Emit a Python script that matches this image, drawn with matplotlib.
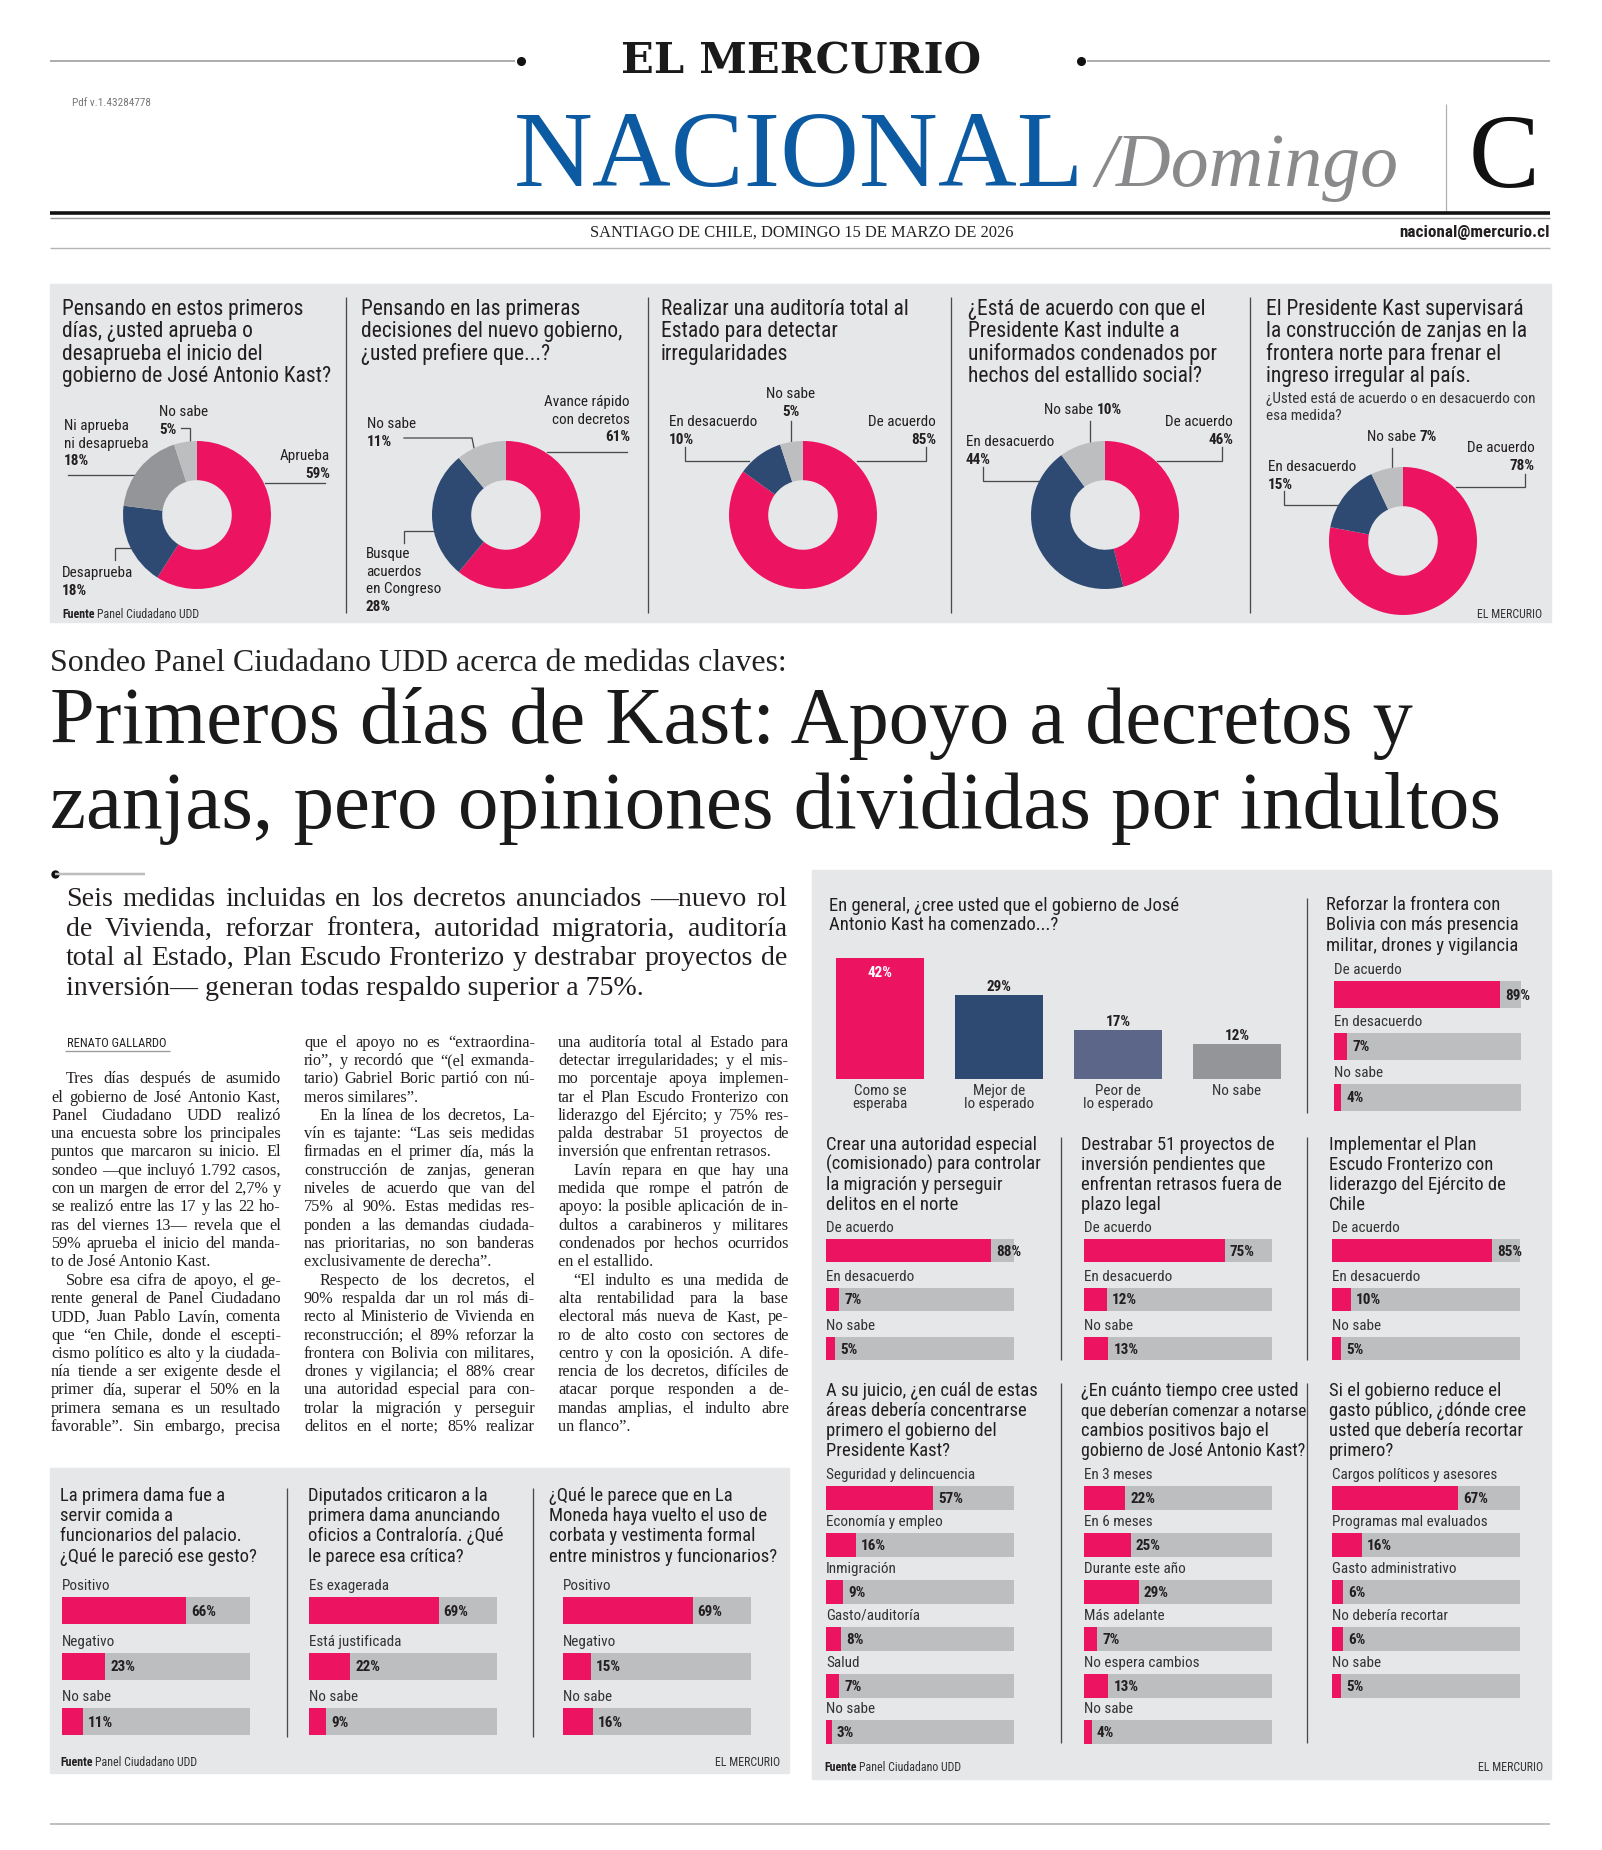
import matplotlib
matplotlib.use('Agg')
import matplotlib.pyplot as plt
from matplotlib import font_manager
from matplotlib.font_manager import FontProperties
from matplotlib.patches import Rectangle

W, H = 1602, 1850
PT = 0.72  # points per pixel at dpi 100

PINK = '#ec1461'
NAVY = '#2f4a72'
SLATE = '#5b6689'
GRAY = '#939598'
LIGHT = '#bcbec0'
PANEL = '#e6e7e8'
INK = '#231f20'
LEAD = '#4a4a4a'
BLUE = '#0b5aa2'

installed = {f.name for f in font_manager.fontManager.ttflist}
def pick(*names):
    for n in names:
        if n in installed:
            return n
    return 'DejaVu Sans'

COND = pick('Roboto Condensed', 'Liberation Sans Narrow', 'DejaVu Sans Condensed', 'Roboto')
SERIF = pick('Liberation Serif', 'DejaVu Serif')
SLAB = pick('DejaVu Serif')

# ---- data: top row of donuts
q1_labels = ['Aprueba', 'Desaprueba', 'Ni aprueba\nni desaprueba', 'No sabe']
q1_values = [59, 18, 18, 5]
q2_labels = ['Avance rápido\ncon decretos', 'Busque\nacuerdos\nen Congreso', 'No sabe']
q2_values = [61, 28, 11]
q3_labels = ['De acuerdo', 'En desacuerdo', 'No sabe']
q3_values = [85, 10, 5]
q4_labels = ['De acuerdo', 'En desacuerdo', 'No sabe']
q4_values = [46, 44, 10]
q5_labels = ['De acuerdo', 'En desacuerdo', 'No sabe']
q5_values = [78, 15, 7]

# ---- data: right panel
start_labels = ['Como se\nesperaba', 'Mejor de\nlo esperado', 'Peor de\nlo esperado', 'No sabe']
start_values = [42, 29, 17, 12]
agree_labels = ['De acuerdo', 'En desacuerdo', 'No sabe']
bolivia_values = [89, 7, 4]
authority_values = [88, 7, 5]
projects_values = [75, 12, 13]
shield_values = [85, 10, 5]
area_labels = ['Seguridad y delincuencia', 'Economía y empleo', 'Inmigración',
               'Gasto/auditoría', 'Salud', 'No sabe']
area_values = [57, 16, 9, 8, 7, 3]
time_labels = ['En 3 meses', 'En 6 meses', 'Durante este año', 'Más adelante',
               'No espera cambios', 'No sabe']
time_values = [22, 25, 29, 7, 13, 4]
cut_labels = ['Cargos políticos y asesores', 'Programas mal evaluados',
              'Gasto administrativo', 'No debería recortar', 'No sabe']
cut_values = [67, 16, 6, 6, 5]

# ---- data: bottom left panel
lady_labels = ['Positivo', 'Negativo', 'No sabe']
lady_values = [66, 23, 11]
critic_labels = ['Es exagerada', 'Está justificada', 'No sabe']
critic_values = [69, 22, 9]
tie_labels = ['Positivo', 'Negativo', 'No sabe']
tie_values = [69, 15, 16]

# ---- article text
lede = ['Seis medidas incluidas en los decretos anunciados —nuevo rol',
        'de Vivienda, reforzar frontera, autoridad migratoria, auditoría',
        'total al Estado, Plan Escudo Fronterizo y destrabar proyectos de',
        'inversión— generan todas respaldo superior a 75%.']
col1 = [['Tres días después de asumido', 'el gobierno de José Antonio Kast,',
         'Panel Ciudadano UDD realizó', 'una encuesta sobre los principales',
         'puntos que marcaron su inicio. El', 'sondeo —que incluyó 1.792 casos,',
         'con un margen de error del 2,7% y', 'se realizó entre las 17 y las 22 ho-',
         'ras del viernes 13— revela que el', '59% aprueba el inicio del manda-',
         'to de José Antonio Kast.'],
        ['Sobre esa cifra de apoyo, el ge-', 'rente general de Panel Ciudadano',
         'UDD, Juan Pablo Lavín, comenta', 'que “en Chile, donde el escepti-',
         'cismo político es alto y la ciudada-', 'nía tiende a ser exigente desde el',
         'primer día, superar el 50% en la', 'primera semana es un resultado',
         'favorable”. Sin embargo, precisa']]
col2 = [['que el apoyo no es “extraordina-', 'rio”, y recordó que “(el exmanda-',
         'tario) Gabriel Boric partió con nú-', 'meros similares”.'],
        ['En la línea de los decretos, La-', 'vín es tajante: “Las seis medidas',
         'firmadas en el primer día, más la', 'construcción de zanjas, generan',
         'niveles de acuerdo que van del', '75% al 90%. Estas medidas res-',
         'ponden a las demandas ciudada-', 'nas prioritarias, no son banderas',
         'exclusivamente de derecha”.'],
        ['Respecto de los decretos, el', '90% respalda dar un rol más di-',
         'recto al Ministerio de Vivienda en', 'reconstrucción; el 89% reforzar la',
         'frontera con Bolivia con militares,', 'drones y vigilancia; el 88% crear',
         'una autoridad especial para con-', 'trolar la migración y perseguir',
         'delitos en el norte; 85% realizar']]
col3 = [['una auditoría total al Estado para', 'detectar irregularidades; y el mis-',
         'mo porcentaje apoya implemen-', 'tar el Plan Escudo Fronterizo con',
         'liderazgo del Ejército; y 75% res-', 'palda destrabar 51 proyectos de',
         'inversión que enfrentan retrasos.'],
        ['Lavín repara en que hay una', 'medida que rompe el patrón de',
         'apoyo: la posible aplicación de in-', 'dultos a carabineros y militares',
         'condenados por hechos ocurridos', 'en el estallido.'],
        ['“El indulto es una medida de', 'alta rentabilidad para la base',
         'electoral más nueva de Kast, pe-', 'ro de alto costo con sectores de',
         'centro y con la oposición. A dife-', 'rencia de los decretos, difíciles de',
         'atacar porque responden a de-', 'mandas amplias, el indulto abre',
         'un flanco”.']]

fig = plt.figure(figsize=(W / 100, H / 100), dpi=100)
ax = fig.add_axes([0, 0, 1, 1])
ax.set_xlim(0, W)
ax.set_ylim(H, 0)
ax.axis('off')
R = fig.canvas.get_renderer()


def fprop(px, fam, weight='normal', style='normal'):
    return FontProperties(family=fam, size=px * PT, weight=weight, style=style)


def wid(s, fp):
    return R.get_text_width_height_descent(s, fp, False)[0]


def fitpx(s, target, fam, weight='normal', style='normal'):
    return 20 * target / wid(s, fprop(20, fam, weight, style))


def txt(x, y, s, px, fam=None, weight='normal', color=INK, ha='left',
        style='normal', maxw=None, base=False):
    fp = fprop(px, fam or COND, weight, style)
    if maxw:
        w = wid(s, fp)
        if w > maxw:
            fp.set_size(px * PT * maxw / w)
    yb = y if base else y + 0.36 * px
    return ax.text(x, yb, s, fontproperties=fp, color=color, ha=ha, va='baseline')


def hline(x0, x1, y, color, lw):
    ax.plot([x0, x1], [y, y], color=color, lw=lw * PT, solid_capstyle='butt')


def vline(x, y0, y1, color=LEAD, lw=1.3):
    ax.plot([x, x], [y0, y1], color=color, lw=lw * PT, solid_capstyle='butt')


def leader(path):
    xs, ys = zip(*path)
    ax.plot(xs, ys, color=LEAD, lw=1.3 * PT, solid_joinstyle='miter')


# ---- calibrated type sizes (from widths)
TOP_T = fitpx('gobierno de José Antonio Kast?', 269, COND)
BAR_T = fitpx('(comisionado) para controlar', 214, COND)
LAB = fitpx('En desacuerdo', 88, COND)
SUB = fitpx('¿Usted está de acuerdo o en desacuerdo con', 269, COND)
SRC = fitpx('Fuente Panel Ciudadano UDD', 136, COND)
BODY = fitpx('una encuesta sobre los principales', 222, SERIF)
LEDE = fitpx(lede[0], 700, SERIF)

# ================= masthead
hline(50, 515, 61, '#9a9a9a', 1.6)
hline(1087, 1550, 61, '#9a9a9a', 1.6)
ax.plot([521, 1081], [61, 61], 'o', color='#111', ms=5.5, ls='none')
txt(801, 74, 'EL MERCURIO', fitpx('EL MERCURIO', 360, SLAB, 'bold'), SLAB, 'bold',
    '#1a1a1a', 'center', base=True)
txt(72, 106, 'Pdf v.1.43284778', fitpx('Pdf v.1.43284778', 79, COND), color='#777', base=True)
txt(514, 186, 'NACIONAL', fitpx('NACIONAL', 571, SERIF), SERIF, color=BLUE, base=True)
txt(1095, 186, '/Domingo', fitpx('/Domingo', 303, SERIF, style='italic'), SERIF,
    color='#8a8a8c', style='italic', base=True)
vline(1446, 104, 211, '#b0b0b0', 1.2)
txt(1469, 187, 'C', fitpx('C', 71, SERIF), SERIF, color='#111', base=True)
hline(50, 1550, 212.5, '#111', 3.6)
hline(50, 1550, 217.5, '#9a9a9a', 1.4)
date = 'SANTIAGO DE CHILE, DOMINGO 15 DE MARZO DE 2026'
txt(802, 237, date, fitpx(date, 426, SERIF), SERIF, color='#222', ha='center', base=True)
txt(1550, 237, 'nacional@mercurio.cl', fitpx('nacional@mercurio.cl', 150, COND, 'bold'),
    weight='bold', ha='right', base=True)
hline(50, 1550, 248, '#b5b5b5', 1.4)

# ================= top donut panel
ax.add_patch(Rectangle((50, 284), 1501, 338, color=PANEL, zorder=0))
for x in [346, 648, 951, 1250]:
    vline(x, 297, 613)

top_titles = [
    (62, ['Pensando en estos primeros', 'días, ¿usted aprueba o',
          'desaprueba el inicio del', 'gobierno de José Antonio Kast?']),
    (361, ['Pensando en las primeras', 'decisiones del nuevo gobierno,',
           '¿usted prefiere que...?']),
    (661, ['Realizar una auditoría total al', 'Estado para detectar', 'irregularidades']),
    (968, ['¿Está de acuerdo con que el', 'Presidente Kast indulte a',
           'uniformados condenados por', 'hechos del estallido social?']),
    (1266, ['El Presidente Kast supervisará', 'la construcción de zanjas en la',
            'frontera norte para frenar el', 'ingreso irregular al país.']),
]
for x, tl in top_titles:
    for i, ln in enumerate(tl):
        txt(x, 307 + i * 22.5, ln, TOP_T, maxw=280)
txt(1266, 398, '¿Usted está de acuerdo o en desacuerdo con', SUB, color='#333')
txt(1266, 415, 'esa medida?', SUB, color='#333')


def donut(cx, cy, vals, colors, r=74):
    a = fig.add_axes([(cx - r) / W, 1 - (cy + r) / H, 2 * r / W, 2 * r / H])
    a.pie(vals, colors=colors, startangle=90, counterclock=False, radius=1,
          wedgeprops=dict(width=0.53, linewidth=0))
    a.set_xlim(-1, 1)
    a.set_ylim(-1, 1)
    a.axis('off')


def dlabel(x, y, name, val, ha='left', path=None):
    lines = name.split('\n')
    for i, ln in enumerate(lines):
        txt(x, y + i * 17.5, ln, LAB, ha=ha)
    txt(x, y + len(lines) * 17.5, f'{val}%', LAB, weight='bold', ha=ha)
    if path:
        leader(path)


def ilabel(x, y, name, val, path=None):
    t = txt(x, y, name, LAB)
    w = wid(name + ' ', t.get_fontproperties())
    txt(x + w, y, f'{val}%', LAB, weight='bold')
    if path:
        leader(path)


C4 = [PINK, NAVY, GRAY, LIGHT]
C3 = [PINK, NAVY, LIGHT]

donut(197, 515, q1_values, C4)
dlabel(330, 455, q1_labels[0], q1_values[0], 'right', [(265, 483), (325, 483)])
dlabel(62, 572, q1_labels[1], q1_values[1], 'left', [(115, 560), (115, 548), (131, 548)])
dlabel(64, 425, q1_labels[2], q1_values[2], 'left', [(68, 475), (136, 475)])
dlabel(159, 411, q1_labels[3], q1_values[3], 'left', [(181, 428), (190, 428), (190, 442)])

donut(506, 515, q2_values, C3)
dlabel(630, 401, q2_labels[0], q2_values[0], 'right', [(547, 452), (627, 452)])
dlabel(366, 553, q2_labels[1], q2_values[1], 'left', [(404, 543), (404, 531), (434, 531)])
dlabel(367, 423, q2_labels[2], q2_values[2], 'left', [(404, 438), (472, 438), (474, 448)])

donut(803, 515, q3_values, C3)
dlabel(936, 421, q3_labels[0], q3_values[0], 'right', [(926, 447), (926, 461), (857, 461)])
dlabel(669, 421, q3_labels[1], q3_values[1], 'left', [(685, 447), (685, 461), (749, 461)])
dlabel(791, 393, q3_labels[2], q3_values[2], 'center', [(791, 421), (791, 442)])

donut(1105, 515, q4_values, C3)
dlabel(1233, 421, q4_labels[0], q4_values[0], 'right', [(1222, 447), (1222, 461), (1157, 461)])
dlabel(966, 441, q4_labels[1], q4_values[1], 'left', [(983, 467), (983, 481), (1041, 481)])
ilabel(1044, 409, q4_labels[2], q4_values[2], [(1090, 421), (1090, 442)])

donut(1403, 541, q5_values, C3)
dlabel(1535, 447, q5_labels[0], q5_values[0], 'right', [(1525, 474), (1525, 487), (1456, 487)])
dlabel(1268, 466, q5_labels[1], q5_values[1], 'left', [(1284, 491), (1284, 505), (1340, 505)])
ilabel(1367, 436, q5_labels[2], q5_values[2], [(1392, 448), (1392, 468)])


def source(x, y, right):
    t = txt(x, y, 'Fuente', SRC, weight='bold')
    txt(x + wid('Fuente ', t.get_fontproperties()), y, 'Panel Ciudadano UDD', SRC, color='#333')
    txt(right, y, 'EL MERCURIO', SRC, color='#333', ha='right')


source(62, 614, 1542)

# ================= headline block
sub = 'Sondeo Panel Ciudadano UDD acerca de medidas claves:'
txt(50, 671, sub, fitpx(sub, 736, SERIF), SERIF, color='#222', base=True)
h1 = 'Primeros días de Kast: Apoyo a decretos y'
h2 = 'zanjas, pero opiniones divididas por indultos'
txt(50, 743, h1, fitpx(h1, 1366, SERIF), SERIF, color='#1a1a1a', base=True)
txt(50, 828, h2, fitpx(h2, 1452, SERIF), SERIF, color='#1a1a1a', base=True)
ax.plot([55], [874], 'o', color='#111', ms=5)
hline(55, 145, 874, '#bdbdbd', 2.5)


def jline(x, yb, w, s, px, last=False, color=INK):
    fp = fprop(px, SERIF)
    words = s.split(' ')
    if last or len(words) < 2:
        ax.text(x, yb, s, fontproperties=fp, color=color, va='baseline')
        return
    ws = [wid(wd, fp) for wd in words]
    gap = (w - sum(ws)) / (len(words) - 1)
    if gap < 0.16 * px:
        k = (w - 0.16 * px * (len(words) - 1)) / sum(ws)
        fp = fprop(px * k, SERIF)
        ws = [wid(wd, fp) for wd in words]
        gap = (w - sum(ws)) / (len(words) - 1)
    pos = x
    for wd, ww in zip(words, ws):
        ax.text(pos, yb, wd, fontproperties=fp, color=color, va='baseline')
        pos += ww + gap


for i, ln in enumerate(lede):
    jline(66, 906 + i * 29.7, 721, ln, LEDE, last=(i == len(lede) - 1))

txt(67, 1042, 'RENATO GALLARDO', fitpx('RENATO GALLARDO', 100, COND), color='#222')
hline(65, 170, 1051, '#9a9a9a', 1.3)


def column(x, y0, w, pars, cont_in, cont_out, step=18.3, indent=15):
    row = 0
    for p, par in enumerate(pars):
        for i, ln in enumerate(par):
            ind = indent if (i == 0 and not (p == 0 and cont_in)) else 0
            last = (i == len(par) - 1) and not (p == len(pars) - 1 and cont_out)
            jline(x + ind, y0 + row * step + 5, w - ind, ln, BODY, last)
            row += 1


column(51, 1078.3, 230, col1, False, True)
column(304, 1041.7, 231, col2, True, True)
column(558, 1041.7, 231, col3, True, False)

# ================= bar chart helpers


def hbars(x0, yc0, step, bar_px, labels, vals, width=188):
    n = len(vals)
    top = yc0 - step / 2
    a = fig.add_axes([x0 / W, 1 - (top + n * step) / H, width / W, n * step / H])
    a.set_xlim(0, 100)
    a.set_ylim(n - 0.5, -0.5)
    a.axis('off')
    h = bar_px / step
    idx = list(range(n))
    a.barh(idx, [100] * n, height=h, color=LIGHT, linewidth=0)
    a.barh(idx, vals, height=h, color=PINK, linewidth=0)
    fl = fprop(LAB, COND)
    fb = fprop(LAB, COND, 'bold')
    for i, (lab, v) in enumerate(zip(labels, vals)):
        a.annotate(lab, (0, i - h / 2), xytext=(0, 7), textcoords='offset pixels',
                   ha='left', va='baseline', fontproperties=fl, color='#333')
        a.annotate(f'{v}%', (v, i), xytext=(5, -5), textcoords='offset pixels',
                   ha='left', va='baseline', fontproperties=fb, color=INK)


def title(x, yc, lines, step=20.2, maxw=225):
    for i, ln in enumerate(lines):
        txt(x, yc + i * step, ln, BAR_T, maxw=maxw)


# ================= right panel
ax.add_patch(Rectangle((812, 870), 739, 909, color=PANEL, zorder=0))
vline(1307, 898, 1113)
for x in [1061, 1307]:
    vline(x, 1137, 1360)
    vline(x, 1383, 1743)

title(829, 904, ['En general, ¿cree usted que el gobierno de José',
                 'Antonio Kast ha comenzado...?'], 19.5, 470)
va = fig.add_axes([820.5 / W, 1 - 1079 / H, 476 / W, 144 / H])
va.set_xlim(-0.5, 3.5)
va.set_ylim(0, 50)
va.axis('off')
va.bar(range(len(start_values)), start_values, width=0.74,
       color=[PINK, NAVY, SLATE, GRAY], linewidth=0)
fb = fprop(LAB, COND, 'bold')
fl = fprop(LAB, COND)
for i, (lab, v) in enumerate(zip(start_labels, start_values)):
    inside = v == max(start_values)
    va.annotate(f'{v}%', (i, v), xytext=(0, -19 if inside else 4), textcoords='offset pixels',
                ha='center', va='baseline', fontproperties=fb,
                color='white' if inside else INK)
    va.annotate(lab, (i, 0), xytext=(0, -5), textcoords='offset pixels', ha='center',
                va='top', fontproperties=fl, color='#333', linespacing=0.95)

title(1326, 903, ['Reforzar la frontera con', 'Bolivia con más presencia',
                  'militar, drones y vigilancia'], 20.5)
hbars(1334, 994.5, 51.5, 27, agree_labels, bolivia_values, 187)

title(826, 1143, ['Crear una autoridad especial', '(comisionado) para controlar',
                  'la migración y perseguir', 'delitos en el norte'])
title(1081, 1143, ['Destrabar 51 proyectos de', 'inversión pendientes que',
                   'enfrentan retrasos fuera de', 'plazo legal'])
title(1329, 1143, ['Implementar el Plan', 'Escudo Fronterizo con',
                   'liderazgo del Ejército de', 'Chile'])
hbars(826, 1250.5, 49, 23.5, agree_labels, authority_values)
hbars(1084, 1250.5, 49, 23.5, agree_labels, projects_values)
hbars(1332, 1250.5, 49, 23.5, agree_labels, shield_values)

title(826, 1389, ['A su juicio, ¿en cuál de estas', 'áreas debería concentrarse',
                  'primero el gobierno del', 'Presidente Kast?'])
title(1081, 1389, ['¿En cuánto tiempo cree usted', 'que deberían comenzar a notarse',
                   'cambios positivos bajo el', 'gobierno de José Antonio Kast?'])
title(1329, 1389, ['Si el gobierno reduce el', 'gasto público, ¿dónde cree',
                   'usted que debería recortar', 'primero?'])
hbars(826, 1498, 46.9, 24, area_labels, area_values)
hbars(1084, 1498, 46.9, 24, time_labels, time_values)
hbars(1332, 1498, 46.9, 24, cut_labels, cut_values)
source(824, 1767, 1543)

# ================= bottom left panel
ax.add_patch(Rectangle((50, 1468), 739, 305, color=PANEL, zorder=0))
vline(287, 1488, 1737)
vline(533, 1488, 1737)
title(60, 1494, ['La primera dama fue a', 'servir comida a',
                 'funcionarios del palacio.', '¿Qué le pareció ese gesto?'], 20.3)
title(308, 1494, ['Diputados criticaron a la', 'primera dama anunciando',
                  'oficios a Contraloría. ¿Qué', 'le parece esa crítica?'], 20.3)
title(549, 1494, ['¿Qué le parece que en La', 'Moneda haya vuelto el uso de',
                  'corbata y vestimenta formal', 'entre ministros y funcionarios?'], 20.3, 232)
hbars(62, 1610.5, 55.7, 27, lady_labels, lady_values)
hbars(309, 1610.5, 55.7, 27, critic_labels, critic_values)
hbars(563, 1610.5, 55.7, 27, tie_labels, tie_values)
source(60, 1762, 780)

hline(50, 1550, 1824, '#b0b0b0', 1.6)

fig.savefig('out.png', dpi=100)
